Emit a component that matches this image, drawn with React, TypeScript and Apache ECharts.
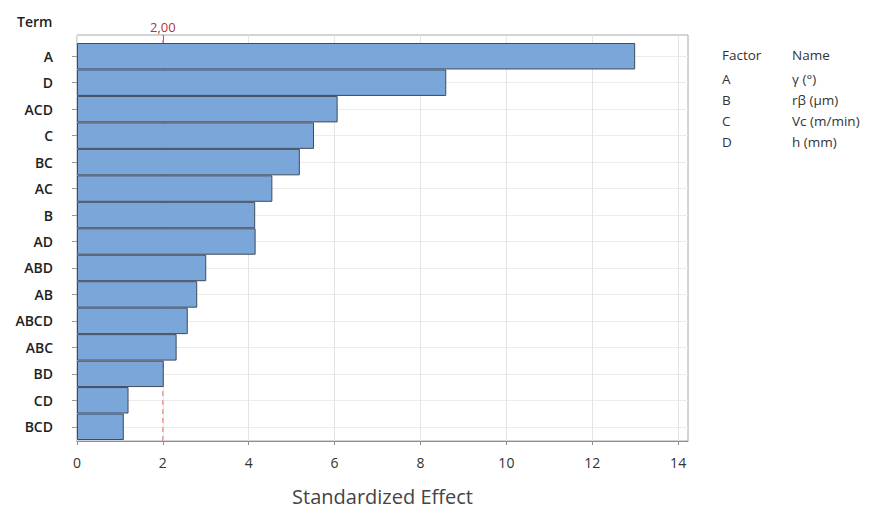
import React, { useEffect, useRef } from 'react';
import * as echarts from 'echarts';

const terms = ['A', 'D', 'ACD', 'C', 'BC', 'AC', 'B', 'AD', 'ABD', 'AB', 'ABCD', 'ABC', 'BD', 'CD', 'BCD'];
const effects = [13.0, 8.6, 6.07, 5.52, 5.19, 4.55, 4.15, 4.16, 3.01, 2.8, 2.58, 2.32, 2.02, 1.2, 1.09];
const xTickValues = [0, 2, 4, 6, 8, 10, 12, 14];
const xMax = 14.23;
const threshold = 2.0;
const thresholdLabel = '2,00';
const factorCodes = ['A', 'B', 'C', 'D'];
const factorNames = ['γ (°)', 'rβ (µm)', 'Vc (m/min)', 'h (mm)'];

const FONT = '"Open Sans", "Noto Sans", sans-serif';

export default function App() {
  const ref = useRef<HTMLDivElement>(null);

  useEffect(() => {
    if (!ref.current) return;
    const chart = echarts.init(ref.current, undefined, { renderer: 'svg' });

    const legendFont = `13.5px ${FONT}`;
    const legendTexts: any[] = [
      { type: 'text', x: 722, y: 55, style: { text: 'Factor', font: legendFont, fill: '#333', verticalAlign: 'middle' } },
      { type: 'text', x: 792, y: 55, style: { text: 'Name', font: legendFont, fill: '#333', verticalAlign: 'middle' } },
    ];
    factorCodes.forEach((c, i) => {
      const y = 79 + i * 21;
      legendTexts.push({ type: 'text', x: 722, y, style: { text: c, font: legendFont, fill: '#333', verticalAlign: 'middle' } });
      legendTexts.push({ type: 'text', x: 792, y, style: { text: factorNames[i], font: legendFont, fill: '#333', verticalAlign: 'middle' } });
    });

    chart.setOption({
      animation: false,
      backgroundColor: '#ffffff',
      textStyle: { fontFamily: FONT },
      grid: [
        { left: 77, top: 43, width: 611, height: 397 },
        { left: 77, top: 35, width: 611, height: 411, show: true, borderColor: '#a8a8a8', borderWidth: 1, backgroundColor: 'transparent' },
      ],
      xAxis: [
        { gridIndex: 0, type: 'value', min: 0, max: xMax, show: false },
        {
          gridIndex: 1, type: 'value', min: 0, max: xMax, interval: 2, position: 'bottom',
          axisLine: { show: true, lineStyle: { color: '#8c8c8c' } },
          axisTick: { show: true, length: 4, customValues: xTickValues, lineStyle: { color: '#8c8c8c' } },
          axisLabel: { customValues: xTickValues, color: '#333', fontSize: 14, fontWeight: 500, margin: 14, fontFamily: FONT },
          splitLine: { show: true, lineStyle: { color: '#e4e4e4' } },
          name: 'Standardized Effect', nameLocation: 'middle', nameGap: 45,
          nameTextStyle: { fontSize: 20, color: '#444', fontFamily: FONT },
        },
        {
          gridIndex: 1, type: 'value', min: 0, max: xMax, position: 'top',
          axisLine: { show: false },
          axisTick: { show: true, inside: true, length: 8, customValues: [threshold], lineStyle: { color: '#d9534f' } },
          axisLabel: { customValues: [threshold], formatter: () => thresholdLabel, color: '#b83236', fontSize: 13, margin: 2, fontFamily: FONT },
          splitLine: { show: false },
        },
      ],
      yAxis: [
        {
          gridIndex: 0, type: 'category', data: terms, inverse: true,
          axisLine: { show: false },
          axisTick: { show: true, alignWithLabel: true, length: 5, lineStyle: { color: '#999' } },
          axisLabel: { color: '#222', fontSize: 14, fontWeight: 600, margin: 24, fontFamily: FONT },
          splitLine: { show: true, alignWithLabel: true, lineStyle: { color: '#ececec' } },
        },
        { gridIndex: 1, type: 'value', min: 0, max: 1, show: false },
      ],
      series: [
        {
          type: 'line', xAxisIndex: 1, yAxisIndex: 1, data: [[threshold, 0], [threshold, 1]],
          symbol: 'none', silent: true, z: 1,
          lineStyle: { color: '#e57373', type: [5, 4], width: 1 },
        },
        {
          type: 'bar', xAxisIndex: 0, yAxisIndex: 0, data: effects, barWidth: '100%', silent: true, z: 3,
          itemStyle: { color: '#7aa6da', borderColor: '#3f4b5b', borderWidth: 1 },
        },
      ],
      graphic: [
        { type: 'text', x: 17, y: 21, style: { text: 'Term', font: `600 14px ${FONT}`, fill: '#222', verticalAlign: 'middle' } },
        ...legendTexts,
      ],
    });

    return () => chart.dispose();
  }, []);

  return <div ref={ref} style={{ position: 'fixed', left: 0, top: 0, width: 873, height: 511 }} />;
}
